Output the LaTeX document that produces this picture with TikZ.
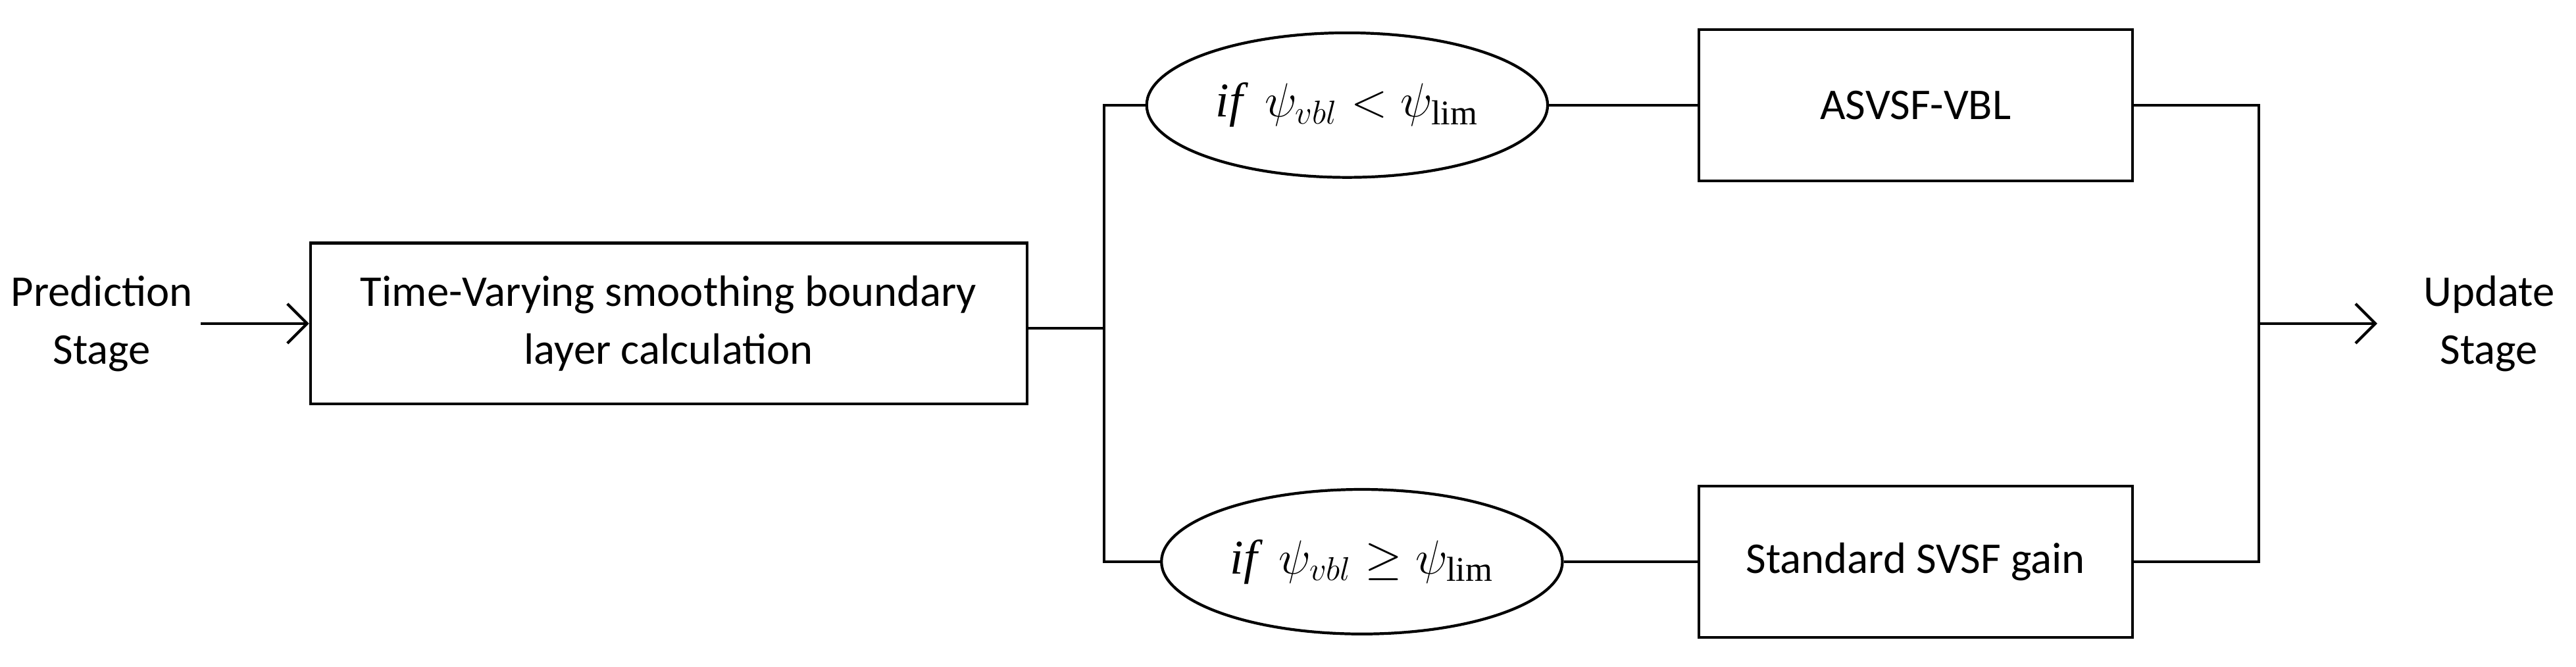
\documentclass[tikz,border=0pt]{standalone}
\usepackage{fontspec}
\setmainfont{Carlito}
\newfontfamily\tms{Liberation Serif}
\usetikzlibrary{shapes.geometric,arrows.meta}
\tikzset{
  blk/.style={draw,line width=1.2pt,minimum width=10.9cm,minimum height=2.45cm,align=center,inner sep=0pt},
  gbox/.style={draw,line width=1.2pt,minimum width=6.6cm,minimum height=2.3cm,inner sep=0pt},
  cond/.style={draw,ellipse,line width=1.2pt,minimum width=6.1cm,minimum height=2.2cm,inner sep=0pt,font=\fontsize{21}{25}\selectfont},
  wire/.style={line width=1.2pt},
  txt/.style={align=center}
}
\newcommand{\ifc}{\text{\tms\itshape if}}
\begin{document}
\begin{tikzpicture}[x=0.025cm,y=-0.025cm,font=\fontsize{19}{25}\selectfont]
\useasboundingbox (0,0) rectangle (1568,406);
\node[txt] (pred) at (62,197) {Prediction\\Stage};
\node[blk] (tv) at (407,197) {Time-Varying smoothing boundary\\layer calculation};
\node[cond] (c1) at (820,64) {{\tms\itshape if}\ \ $\psi_{vbl}<\psi_{\hbox{\tms\fontsize{15}{15}\selectfont lim}}$};
\node[cond] (c2) at (829,342) {{\tms\itshape if}\ \ $\psi_{vbl}\geq\psi_{\hbox{\tms\fontsize{15}{15}\selectfont lim}}$};
\node[gbox] (asv) at (1166,64) {ASVSF-VBL};
\node[gbox] (std) at (1166,342) {Standard SVSF gain};
\node[txt] (upd) at (1515,197) {Update\\Stage};
\coordinate (split) at (672,200);
\coordinate (join) at (1375,197);
\coordinate (tip) at (1447,197);
\draw[wire,-{Straight Barb[length=3mm]}] (pred.east) -- (tv.west);
\draw[wire] (tv.east |- split) -- (split);
\draw[wire] (c1.west) -| (split) |- (c2.west);
\draw[wire] (c1) -- (asv);
\draw[wire] (c2) -- (std);
\draw[wire] (asv.east) -| (join) |- (std.east);
\draw[wire,-{Straight Barb[length=3mm]}] (join) -- (tip);
\end{tikzpicture}
\end{document}
